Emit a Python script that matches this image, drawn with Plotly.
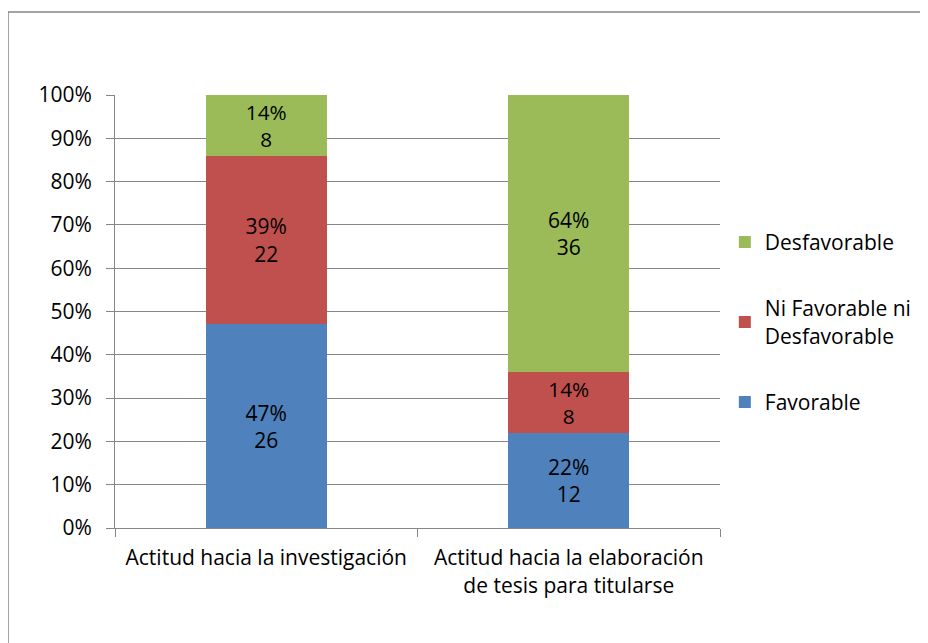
import plotly.graph_objects as go

categories = ["Actitud hacia la investigación", "Actitud hacia la elaboración<br>de tesis para titularse"]
series_names = ["Favorable", "Ni Favorable ni<br>Desfavorable", "Desfavorable"]
percent_values = [[47, 22], [39, 14], [14, 64]]
count_values = [[26, 12], [22, 8], [8, 36]]
colors = ["#4F81BD", "#C0504D", "#9BBB59"]
legend_ranks = [3, 2, 1]
tick_vals = [0, 10, 20, 30, 40, 50, 60, 70, 80, 90, 100]
tick_text = [f"{v}%" for v in tick_vals]

FONT = "Open Sans"
FS = 21
fig = go.Figure()
for i, (name, pv, cv, col, rk) in enumerate(zip(series_names, percent_values, count_values, colors, legend_ranks)):
    fig.add_trace(go.Bar(
        x=categories, y=pv, name=name, marker_color=col, marker_line_width=0,
        legendgroup=f"g{i}", legendrank=rk,
        text=[f"{p}%<br>{c}" for p, c in zip(pv, cv)],
        textposition="inside", insidetextanchor="middle",
        textfont=dict(color="black", size=FS, family=FONT),
        textangle=0,
    ))

W, H = 920, 635
L, T = 107, 87
R, B = W - (720 - 8), H - (528 - 8)
PW, PH = W - L - R, H - T - B

fig.update_layout(
    barmode="stack", bargap=0.6,
    width=W, height=H,
    margin=dict(l=L, r=R, t=T, b=B, autoexpand=False),
    paper_bgcolor="white", plot_bgcolor="white",
    font=dict(family=FONT, size=FS, color="black"),
    showlegend=True,
    legend=dict(traceorder="grouped", x=1.008, y=0.475, yanchor="middle", xanchor="left",
                font=dict(size=FS, family=FONT), tracegroupgap=36, itemwidth=30),
)
fig.update_yaxes(range=[0, 100], tickvals=tick_vals, ticktext=tick_text,
                 showgrid=True, gridcolor="#868686", gridwidth=1,
                 showline=True, linecolor="#868686", linewidth=1,
                 ticks="outside", ticklen=8, tickcolor="#868686", zeroline=False,
                 ticklabelstandoff=10)
fig.update_xaxes(showgrid=False, showline=True, linecolor="#868686", linewidth=1,
                 ticks="outside", ticklen=8, tickcolor="#868686", tickson="boundaries",
                 ticklabelstandoff=11)
fig.add_shape(type="rect", xref="paper", yref="paper",
              x0=-L / PW, y0=-0.5, x1=1.6, y1=1 + (T - 4) / PH,
              line=dict(color="#868686", width=1.5), layer="below")
fig.write_html("out.html")
